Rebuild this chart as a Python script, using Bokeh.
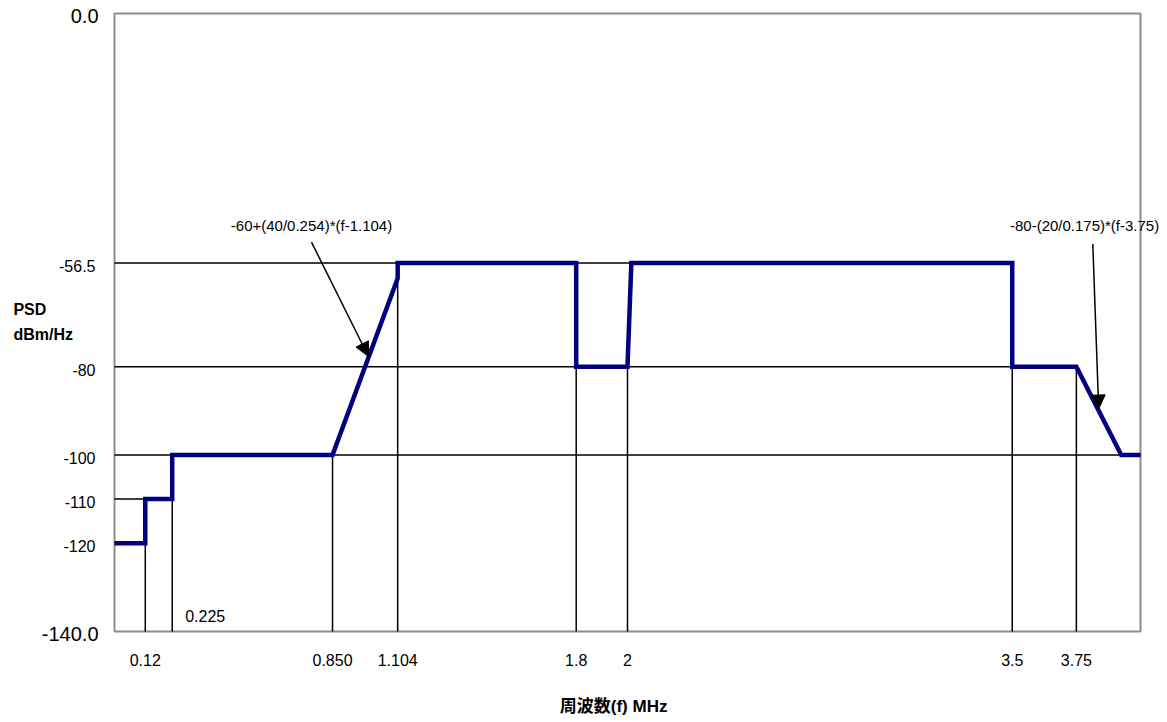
from bokeh.plotting import figure
from bokeh.models import Range1d, Arrow, NormalHead, ColumnDataSource
from bokeh.core.properties import value
from bokeh.embed import file_html
from bokeh.resources import INLINE

# PSD mask (frequency in MHz, PSD in dBm/Hz)
freq = [0.0, 0.12, 0.12, 0.225, 0.225, 0.85, 1.104, 1.104, 1.8, 1.8, 2.0, 2.015, 3.5, 3.5, 3.75, 3.925, 4.0]
psd = [-120, -120, -110, -110, -100, -100, -60, -56.5, -56.5, -80, -80, -56.5, -56.5, -80, -80, -100, -100]

# plot area (axis box)
plot_x = [0.0, 4.0]
plot_y = [-140.0, 0.0]

# axis ticks / labels
x_ticks = [0.12, 0.85, 1.104, 1.8, 2.0, 3.5, 3.75]
x_tick_labels = ["0.12", "0.850", "1.104", "1.8", "2", "3.5", "3.75"]
y_ticks = [-56.5, -80, -100, -110, -120]
y_tick_labels = ["-56.5", "-80", "-100", "-110", "-120"]
y_end_ticks = [0.0, -140.0]
y_end_labels = ["0.0", "-140.0"]
inner_x_tick = [0.225]
inner_x_label = ["0.225"]

# reference lines
h_levels = [-56.5, -80, -100, -110]
h_ends = [3.5, 3.75, 4.0, 0.225]
v_pos = [0.12, 0.225, 0.85, 1.104, 1.8, 2.0, 3.5, 3.75]
v_tops = [-120, -100, -100, -56.5, -80, -80, -80, -80]

# formula annotations
ann_text = ["-60+(40/0.254)*(f-1.104)", "-80-(20/0.175)*(f-3.75)"]
ann_x = [0.768, 3.782]
ann_y = [-48.0, -48.0]
arr_x0 = [0.768, 3.814]
arr_y0 = [-51.8, -52.2]
arr_x1 = [0.990, 3.837]
arr_y1 = [-77.7, -89.6]

# axis titles
y_title = ["PSD", "dBm/Hz"]
y_title_x = [-0.394, -0.394]
y_title_y = [-67.1, -72.7]
x_title = ["周波数(f)  MHz"]
x_title_x = [1.955]
x_title_y = [-157.0]

FONT = value("Liberation Sans")
W, H = 1160, 718
PX_X = 256.5      # pixels per MHz
PX_Y = 4.4143     # pixels per dB
LEFT, TOP = 114, 13

p = figure(width=W, height=H, output_backend="svg", toolbar_location=None,
           x_axis_type=None, y_axis_type=None,
           x_range=Range1d(-LEFT / PX_X, (W - LEFT) / PX_X),
           y_range=Range1d(-(H - TOP) / PX_Y, TOP / PX_Y),
           min_border=0)
p.title.visible = False
p.background_fill_color = "white"
p.border_fill_color = "white"
p.outline_line_color = None
p.xgrid.visible = False
p.ygrid.visible = False

# axis box
p.quad(left=[plot_x[0]], right=[plot_x[1]], bottom=[plot_y[0]], top=[plot_y[1]],
       fill_color=None, line_color="#8c8c8c", line_width=2)

# reference lines
p.segment(x0=[plot_x[0]] * len(h_levels), y0=h_levels, x1=h_ends, y1=h_levels,
          line_color="black", line_width=1.5)
p.segment(x0=v_pos, y0=[plot_y[0]] * len(v_pos), x1=v_pos, y1=v_tops,
          line_color="black", line_width=1.5)

# mask line
p.line(freq, psd, line_color="#000080", line_width=4.5, line_join="miter")

# arrows
arr_src = ColumnDataSource(dict(x0=arr_x0, y0=arr_y0, x1=arr_x1, y1=arr_y1))
p.add_layout(Arrow(source=arr_src, x_start="x0", y_start="y0", x_end="x1", y_end="y1",
                   line_color="black", line_width=1.5,
                   end=NormalHead(size=14, fill_color="black", line_color="black")))

# x tick labels
p.text(x=x_ticks, y=[plot_y[0]] * len(x_ticks), text=x_tick_labels, y_offset=28,
       text_font=FONT, text_font_size="16px", text_align="center",
       text_baseline="middle", text_color="black")
p.text(x=inner_x_tick, y=[plot_y[0]], text=inner_x_label, x_offset=13, y_offset=-16,
       text_font=FONT, text_font_size="16px", text_align="left",
       text_baseline="middle", text_color="black")

# y tick labels
p.text(x=[plot_x[0]] * len(y_ticks), y=y_ticks, text=y_tick_labels, x_offset=-19, y_offset=3,
       text_font=FONT, text_font_size="16px", text_align="right",
       text_baseline="middle", text_color="black")
p.text(x=[plot_x[0]] * len(y_end_ticks), y=y_end_ticks, text=y_end_labels, x_offset=-16, y_offset=2,
       text_font=FONT, text_font_size="20px", text_align="right",
       text_baseline="middle", text_color="black")

# formula labels
p.text(x=ann_x, y=ann_y, text=ann_text, text_font=FONT, text_font_size="15px",
       text_align="center", text_baseline="middle", text_color="black")

# axis titles
p.text(x=y_title_x, y=y_title_y, text=y_title, text_font=FONT, text_font_size="16px",
       text_font_style="bold", text_align="left", text_baseline="middle", text_color="black")
p.text(x=x_title_x, y=x_title_y, text=x_title,
       text_font=value("Liberation Sans, Noto Sans CJK JP"), text_font_size="17px",
       text_font_style="bold", text_align="center", text_baseline="middle", text_color="black")

open("out.html", "w").write(file_html(p, INLINE))
